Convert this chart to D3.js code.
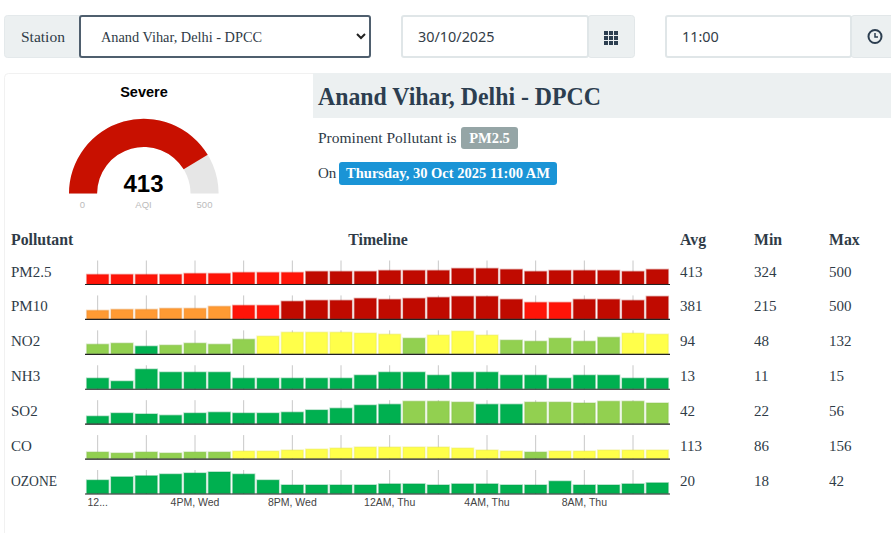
<!DOCTYPE html>
<html>
<head>
<meta charset="utf-8">
<script src="https://cdn.jsdelivr.net/npm/d3@7"></script>
<style>
  html, body { margin: 0; padding: 0; background: #fff; overflow: hidden; }
  svg { display: block; }
  text { font-family: "Liberation Serif", serif; fill: #2f3b47; }
  .sans { font-family: "Liberation Sans", Arial, sans-serif; }
  .input { font-family: "Noto Sans", sans-serif; fill: #333d47; }
</style>
</head>
<body>
<svg id="page" width="891" height="533"></svg>
<script>
// Data
const hours = ['12PM', '1PM', '2PM', '3PM', '4PM', '5PM', '6PM', '7PM', '8PM', '9PM', '10PM', '11PM',
  '12AM', '1AM', '2AM', '3AM', '4AM', '5AM', '6AM', '7AM', '8AM', '9AM', '10AM', '11AM'];
const gridHours = hours.filter((d, i) => i % 2 === 0);
const labelHours = ['12PM', '4PM', '8PM', '12AM', '4AM', '8AM'];
const hourLabels = ['12...', '4PM, Wed', '8PM, Wed', '12AM, Thu', '4AM, Thu', '8AM, Thu'];

const pollutants = ['PM2.5', 'PM10', 'NO2', 'NH3', 'SO2', 'CO', 'OZONE'];
const pm25 = [324, 324, 324, 324, 353, 353, 383, 383, 383, 412, 412, 412, 441, 441, 441, 500, 500, 471, 412, 441, 441, 441, 412, 471];
const pm10 = [215, 235, 235, 256, 256, 297, 317, 317, 400, 419, 419, 459, 439, 459, 480, 500, 500, 439, 378, 378, 439, 439, 419, 500];
const no2 = [59, 65, 48, 54, 65, 59, 87, 104, 126, 126, 126, 121, 115, 93, 110, 132, 110, 82, 76, 93, 76, 98, 121, 115];
const nh3 = [12, 11, 15, 14, 14, 14, 12, 12, 12, 12, 12, 13, 14, 14, 13, 14, 14, 13, 13, 12, 13, 13, 12, 12];
const so2 = [22, 29, 27, 24, 29, 31, 29, 29, 31, 36, 40, 47, 49, 56, 56, 54, 49, 49, 54, 54, 52, 56, 56, 52];
const co = [98, 86, 98, 86, 98, 98, 109, 109, 121, 132, 144, 156, 156, 156, 156, 144, 121, 109, 98, 109, 109, 121, 121, 121];
const ozone = [27, 33, 35, 38, 40, 42, 38, 27, 18, 18, 18, 18, 20, 20, 18, 20, 20, 18, 18, 25, 18, 18, 20, 22];
const series = [pm25, pm10, no2, nh3, so2, co, ozone];

const axisLow = [31, 31, 3, 8.33, 4, 16, 1.4];
const axisHigh = [734, 521, 137, 16.33, 58.5, 297, 45.7];
const avgs = [413, 381, 94, 13, 42, 113, 20];
const mins = [324, 215, 48, 11, 22, 86, 18];
const maxs = [500, 500, 132, 15, 56, 156, 42];

const aqi = 413;
const aqiMax = 500;
const bandLimits = [50, 100, 200, 300, 400];
const bandColors = ['#00b050', '#92d050', '#ffff4a', '#ff9a33', '#ff1408', '#c00a00'];

const svg = d3.select('#page');
const color = d3.scaleThreshold().domain(bandLimits).range(bandColors);

function box(x, y, w, h, fill, stroke, sw, r) {
  return svg.append('rect').attr('x', x).attr('y', y).attr('width', w).attr('height', h)
    .attr('fill', fill).attr('stroke', stroke || 'none').attr('stroke-width', sw || 0).attr('rx', r || 0);
}
function label(x, y, str, size, opts) {
  opts = opts || {};
  const t = svg.append('text').attr('x', x).attr('y', y).text(str)
    .attr('font-size', size)
    .attr('font-weight', opts.bold ? 'bold' : null)
    .attr('text-anchor', opts.anchor || 'start')
    .attr('class', opts.cls || null)
    .style('fill', opts.fill || null);
  // the original font is not installed, so hold the measured width
  if (opts.width) t.attr('textLength', opts.width).attr('lengthAdjust', 'spacingAndGlyphs');
  return t;
}

// Form row
box(4.5, 15.5, 80, 42, '#ecf0f1', '#e4e9eb', 1, 3);
label(21, 42, 'Station', 15.5);
box(80, 16, 290, 41, '#fff', '#4f5f6e', 2, 2);
label(101, 42, 'Anand Vihar, Delhi - DPCC', 15, { width: 161 });
svg.append('path').attr('d', 'M357 34l4 4 4-4').attr('fill', 'none').attr('stroke', '#222').attr('stroke-width', 2);

box(588, 15.5, 46.5, 42, '#ecf0f1', '#e2e7e9', 1, 3);
box(402, 16, 186, 41, '#fff', '#e0e6e8', 2, 2);
label(418, 42, '30/10/2025', 14.4, { cls: 'input' });
svg.append('g').selectAll('rect').data(d3.range(9)).join('rect')
  .attr('x', d => 604 + (d % 3) * 5)
  .attr('y', d => 31 + Math.floor(d / 3) * 5)
  .attr('width', 4).attr('height', 4).attr('fill', '#2c3e50');

box(851, 15.5, 46, 42, '#ecf0f1', '#e2e7e9', 1, 3);
box(666, 16, 185, 41, '#fff', '#e0e6e8', 2, 2);
label(682, 42, '11:00', 14.4, { cls: 'input' });
svg.append('circle').attr('cx', 875).attr('cy', 36.5).attr('r', 6.5).attr('fill', 'none').attr('stroke', '#2c3e50').attr('stroke-width', 2);
svg.append('path').attr('d', 'M875 33v4h3').attr('fill', 'none').attr('stroke', '#2c3e50').attr('stroke-width', 1.5);

// Card and heading
box(4.5, 73.5, 900, 480, '#fff', '#f1f1f1', 1, 4);
box(313, 73, 578, 45, '#ecf0f1');
label(318, 105, 'Anand Vihar, Delhi - DPCC', 24.5, { bold: true, fill: '#2c3e50', width: 283 });
label(318, 143, 'Prominent Pollutant is', 15.5);
box(461, 127, 57, 22, '#95a5a6', null, 0, 3);
label(489.5, 143, 'PM2.5', 14.5, { bold: true, anchor: 'middle', fill: '#fff' });
label(318, 178, 'On', 15);
box(339, 162, 218, 23, '#1a94d6', null, 0, 3);
label(448, 178, 'Thursday, 30 Oct 2025 11:00 AM', 14.5, { bold: true, anchor: 'middle', fill: '#fff' });

// Gauge
const gaugeAngle = d3.scaleLinear().domain([0, aqiMax]).range([-Math.PI / 2, Math.PI / 2]);
const gaugeArc = d3.arc().innerRadius(46.7).outerRadius(74.8);
const gauge = svg.append('g').attr('transform', 'translate(143.8,193.6)');
gauge.append('path').attr('fill', '#e6e6e6')
  .attr('d', gaugeArc({ startAngle: gaugeAngle(0), endAngle: gaugeAngle(aqiMax) }));
gauge.append('path').attr('fill', '#c81000')
  .attr('d', gaugeArc({ startAngle: gaugeAngle(0), endAngle: gaugeAngle(aqi) }));
label(144, 97, 'Severe', 14.5, { bold: true, anchor: 'middle', cls: 'sans', fill: '#000' });
label(143.5, 192, aqi, 24, { bold: true, anchor: 'middle', cls: 'sans', fill: '#000' });
label(82.5, 208, '0', 9.5, { anchor: 'middle', cls: 'sans', fill: '#bbb' });
label(143.5, 208, 'AQI', 9.5, { anchor: 'middle', cls: 'sans', fill: '#bbb' });
label(204.5, 208, aqiMax, 9.5, { anchor: 'middle', cls: 'sans', fill: '#bbb' });

// Table headers
label(11, 245, 'Pollutant', 15.8, { bold: true });
label(378, 245, 'Timeline', 15.8, { bold: true, anchor: 'middle' });
label(680, 245, 'Avg', 15.8, { bold: true });
label(754, 245, 'Min', 15.8, { bold: true });
label(829, 245, 'Max', 15.8, { bold: true });

// Timeline rows
const x = d3.scaleBand().domain(hours).range([85.5, 669.5]).paddingInner(0.02).paddingOuter(0.01);
const rowY = d3.scalePoint().domain(pollutants).range([284.5, 494]);
const rowH = 24;

pollutants.forEach((name, r) => {
  const base = rowY(name);
  const y = d3.scaleLinear().domain([axisLow[r], axisHigh[r]]).range([base, base - rowH]);
  const row = svg.append('g').attr('class', 'row');

  row.selectAll('line.grid').data(gridHours).join('line')
    .attr('class', 'grid')
    .attr('x1', d => x(d) + x.bandwidth() / 2)
    .attr('x2', d => x(d) + x.bandwidth() / 2)
    .attr('y1', base - rowH).attr('y2', base)
    .attr('stroke', '#c8c8c8');

  row.selectAll('rect').data(series[r]).join('rect')
    .attr('x', (d, i) => x(hours[i]) + 1)
    .attr('y', d => y(d))
    .attr('width', x.bandwidth() - 2)
    .attr('height', d => base - y(d) - 0.5)
    .attr('fill', d => color(d))
    .attr('stroke', d => d3.color(color(d)).darker(0.3))
    .attr('stroke-opacity', 0.33)
    .attr('stroke-width', 1.6);

  row.append('line').attr('x1', 85).attr('x2', 670).attr('y1', base).attr('y2', base)
    .attr('stroke', '#222').attr('stroke-width', 1.2);

  const ty = base - 8;
  label(11, ty, name, 15, name === 'OZONE' ? { width: 46 } : {});
  label(680, ty, avgs[r], 15);
  label(754, ty, mins[r], 15);
  label(829, ty, maxs[r], 15);
});

// Time axis under the last row
const timeAxis = d3.axisBottom(x)
  .tickValues(labelHours)
  .tickSize(0)
  .tickPadding(5)
  .tickFormat(d => hourLabels[labelHours.indexOf(d)]);
svg.append('g').attr('transform', 'translate(0,' + rowY('OZONE') + ')').call(timeAxis)
  .call(g => g.select('.domain').remove())
  .call(g => g.selectAll('text').attr('class', 'sans').attr('font-size', 10.5).style('fill', '#444'));
</script>
</body>
</html>
